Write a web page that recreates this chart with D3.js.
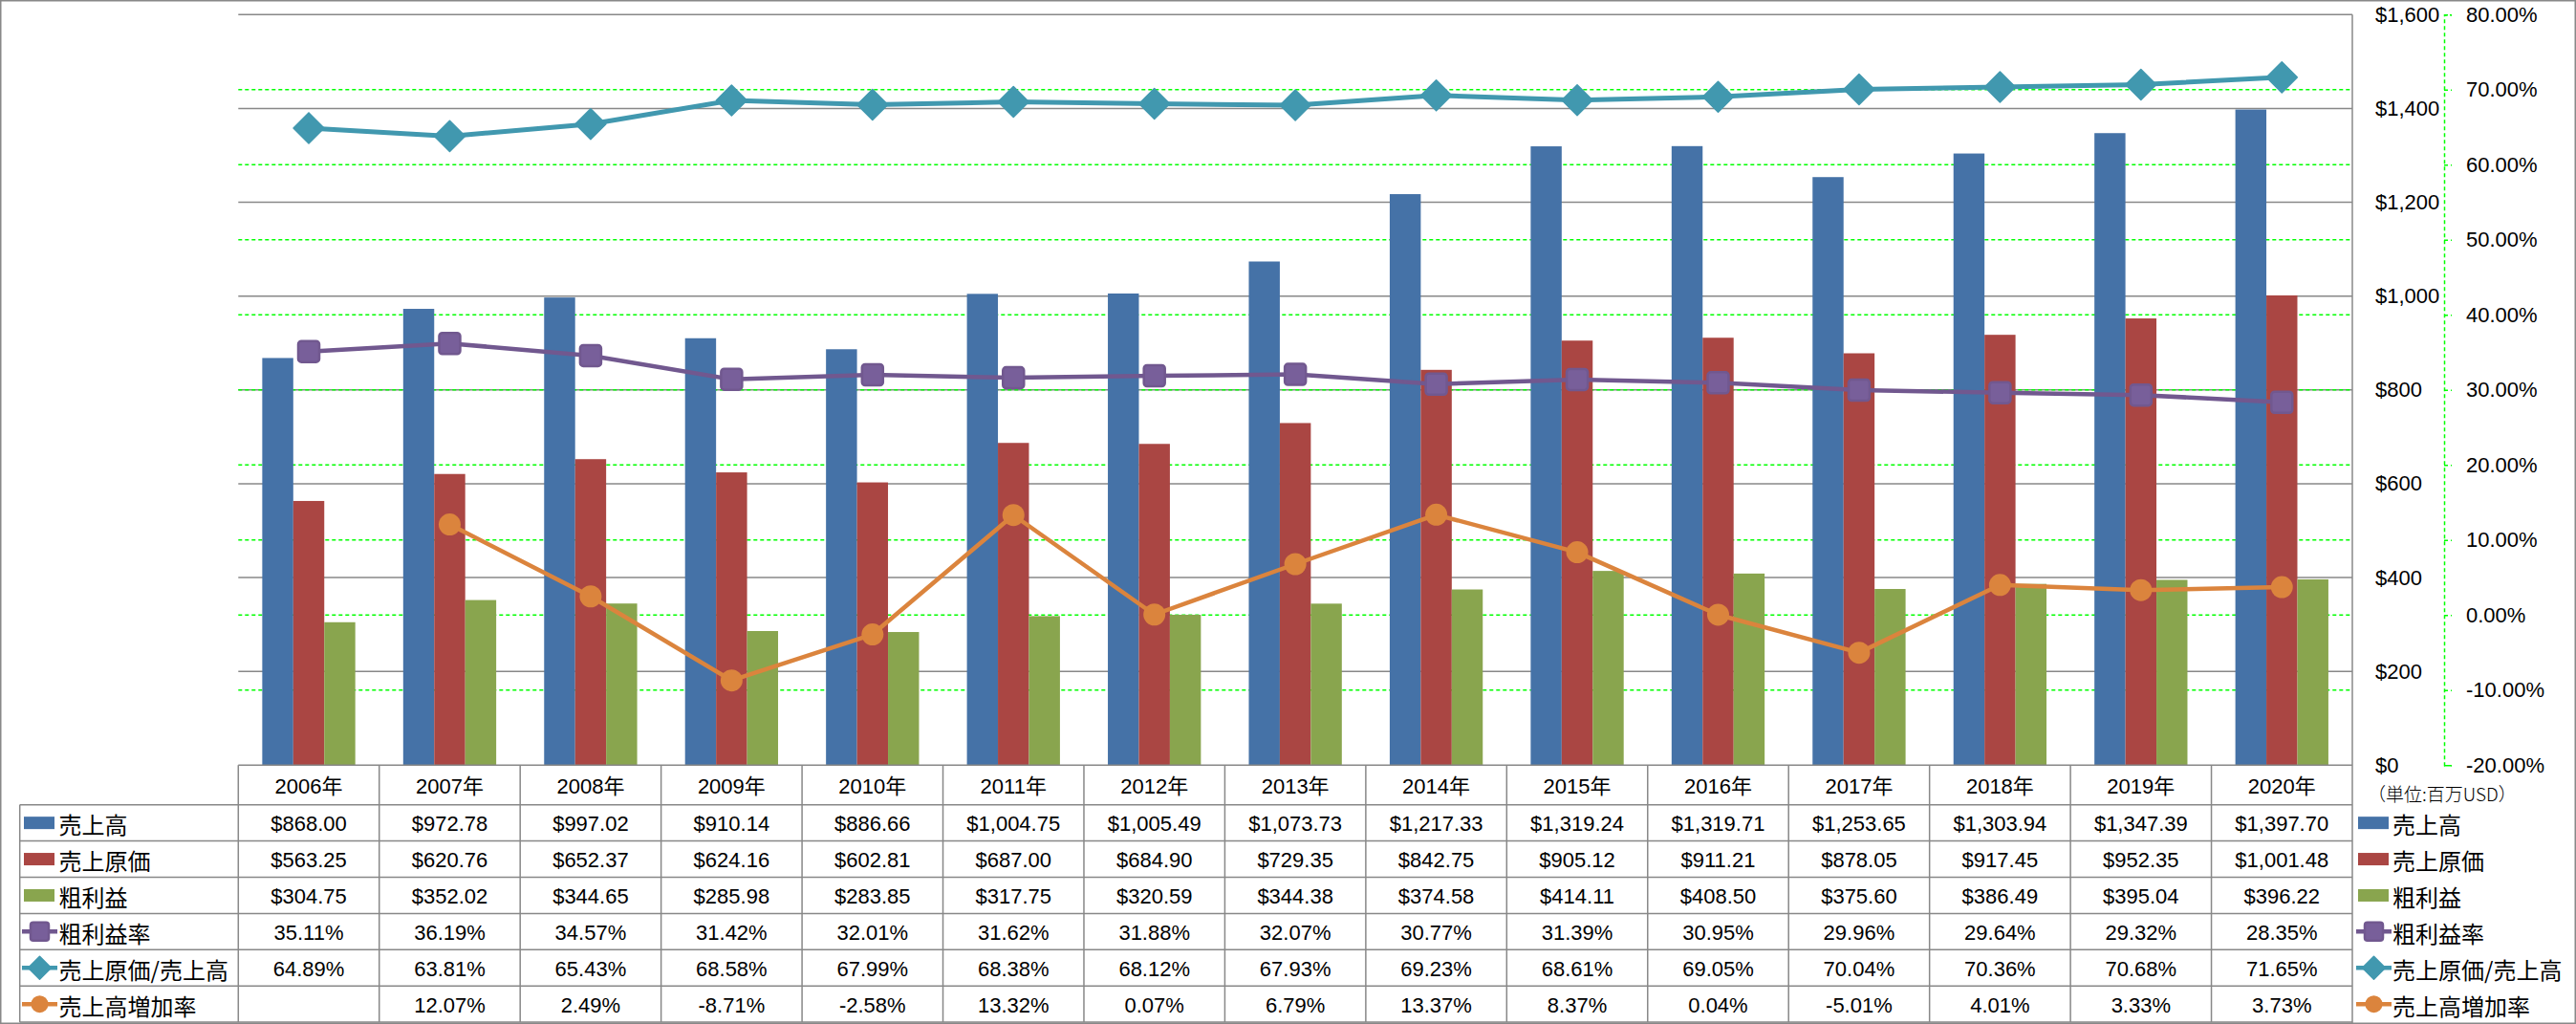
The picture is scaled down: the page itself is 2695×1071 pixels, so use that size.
<!DOCTYPE html>
<html>
<head>
<meta charset="utf-8">
<script src="https://cdn.jsdelivr.net/npm/d3@7"></script>
<style>
  html, body { margin: 0; padding: 0; background: #fff; }
  svg { display: block; }
  text { font-family: "Liberation Sans", "Noto Sans CJK JP", sans-serif; fill: #000; }
</style>
</head>
<body>
<svg id="chart" width="2695" height="1071"></svg>
<script>
// ---------------- data ----------------
const years = ["2006年","2007年","2008年","2009年","2010年","2011年","2012年","2013年","2014年","2015年","2016年","2017年","2018年","2019年","2020年"];
const sales = [868.00, 972.78, 997.02, 910.14, 886.66, 1004.75, 1005.49, 1073.73, 1217.33, 1319.24, 1319.71, 1253.65, 1303.94, 1347.39, 1397.70];
const costOfSales = [563.25, 620.76, 652.37, 624.16, 602.81, 687.00, 684.90, 729.35, 842.75, 905.12, 911.21, 878.05, 917.45, 952.35, 1001.48];
const grossProfit = [304.75, 352.02, 344.65, 285.98, 283.85, 317.75, 320.59, 344.38, 374.58, 414.11, 408.50, 375.60, 386.49, 395.04, 396.22];
const grossMargin = [35.11, 36.19, 34.57, 31.42, 32.01, 31.62, 31.88, 32.07, 30.77, 31.39, 30.95, 29.96, 29.64, 29.32, 28.35];
const costRatio = [64.89, 63.81, 65.43, 68.58, 67.99, 68.38, 68.12, 67.93, 69.23, 68.61, 69.05, 70.04, 70.36, 70.68, 71.65];
const salesGrowth = [null, 12.07, 2.49, -8.71, -2.58, 13.32, 0.07, 6.79, 13.37, 8.37, 0.04, -5.01, 4.01, 3.33, 3.73];
const leftTicks = [0, 200, 400, 600, 800, 1000, 1200, 1400, 1600];
const rightTicks = [-20, -10, 0, 10, 20, 30, 40, 50, 60, 70, 80];
const unitLabel = "（単位:百万USD）";

const barSeries = [
  { name: "売上高", values: sales, color: "#4572a7" },
  { name: "売上原価", values: costOfSales, color: "#aa4643" },
  { name: "粗利益", values: grossProfit, color: "#89a54e" }
];
const lineSeries = [
  { name: "粗利益率", values: grossMargin, color: "#71588f", marker: "square" },
  { name: "売上原価/売上高", values: costRatio, color: "#4198af", marker: "diamond" },
  { name: "売上高増加率", values: salesGrowth, color: "#db843d", marker: "circle" }
];

// ---------------- layout ----------------
const W = 2695, H = 1071;
const plotL = 249.3, plotR = 2461, plotT = 15.3, plotB = 800.3;
const tableLeft = 20.7;
const headerB = 841.7, rowH = 37.9;
const gridGray = "#888888", green = "#00ff00";

const locale = d3.formatLocale({ decimal: ".", thousands: ",", grouping: [3], currency: ["$", ""], minus: "-" });

const svg = d3.select("#chart");

const x = d3.scaleBand().domain(years).range([plotL, plotR]);
const bw = x.bandwidth();
const groupW = bw * 0.66;
const xSub = d3.scaleBand().domain(barSeries.map(s => s.name)).range([(bw - groupW) / 2, (bw + groupW) / 2]);
const yL = d3.scaleLinear().domain([0, 1600]).range([plotB, plotT]);
const yR = d3.scaleLinear().domain([-20, 80]).range([plotB, plotT]);

// outer frame
svg.append("rect").attr("x", 0.75).attr("y", 0.75).attr("width", W - 1.5).attr("height", H - 1.5)
  .attr("fill", "none").attr("stroke", gridGray).attr("stroke-width", 1.5);

// gray gridlines (left/$ axis)
svg.append("g").selectAll("line").data(leftTicks.filter(d => d > 0)).join("line")
  .attr("x1", plotL).attr("x2", plotR)
  .attr("y1", d => yL(d)).attr("y2", d => yL(d))
  .attr("stroke", gridGray).attr("stroke-width", 1.5);

// green dashed gridlines (right/% axis)
svg.append("g").selectAll("line").data(rightTicks.filter(d => d > -20 && d < 80)).join("line")
  .attr("x1", plotL).attr("x2", plotR)
  .attr("y1", d => yR(d)).attr("y2", d => yR(d))
  .attr("stroke", green).attr("stroke-width", 1.5).attr("stroke-dasharray", "4,3");

// bars
const barG = svg.append("g");
barSeries.forEach(s => {
  barG.append("g").selectAll("rect").data(s.values).join("rect")
    .attr("x", (d, i) => x(years[i]) + xSub(s.name))
    .attr("width", xSub.bandwidth())
    .attr("y", d => yL(d))
    .attr("height", d => yL(0) - yL(d))
    .attr("fill", s.color);
});

// marker drawing
function drawMarker(g, type, cx, cy, size, color) {
  if (type === "square") {
    g.append("rect").attr("x", cx - size / 2).attr("y", cy - size / 2)
      .attr("width", size).attr("height", size).attr("rx", size * 0.15)
      .attr("fill", "#785f9a").attr("stroke", color).attr("stroke-width", 2.5);
  } else if (type === "diamond") {
    const h = size / 2;
    g.append("path").attr("d", `M${cx},${cy - h}L${cx + h},${cy}L${cx},${cy + h}L${cx - h},${cy}Z`)
      .attr("fill", color).attr("stroke", color).attr("stroke-width", 1.5).attr("stroke-linejoin", "round");
  } else {
    g.append("circle").attr("cx", cx).attr("cy", cy).attr("r", size / 2)
      .attr("fill", color);
  }
}
const markerSize = { square: 22, diamond: 32, circle: 23 };
const lineWidth = { square: 4.5, diamond: 5, circle: 4.5 };

// lines
lineSeries.forEach(s => {
  const g = svg.append("g");
  const pts = s.values.map((v, i) => ({ v, i }));
  const line = d3.line()
    .defined(d => d.v !== null)
    .x(d => x(years[d.i]) + bw / 2)
    .y(d => yR(d.v));
  g.append("path").datum(pts).attr("d", line)
    .attr("fill", "none").attr("stroke", s.color).attr("stroke-width", lineWidth[s.marker])
    .attr("stroke-linejoin", "round");
  pts.filter(d => d.v !== null).forEach(d => {
    drawMarker(g, s.marker, x(years[d.i]) + bw / 2, yR(d.v), markerSize[s.marker], s.color);
  });
});

// primary value axis line at right edge of plot
svg.append("line").attr("x1", plotR).attr("x2", plotR).attr("y1", plotT).attr("y2", H)
  .attr("stroke", gridGray).attr("stroke-width", 1.5);

// left ($) axis labels placed on the right
const axL = d3.axisRight(yL).tickValues(leftTicks).tickFormat(locale.format("$,.0f")).tickSize(0).tickPadding(0);
const gAxL = svg.append("g").attr("transform", `translate(2485,0)`).call(axL);
gAxL.select(".domain").remove();
gAxL.selectAll("text").attr("font-size", 22).attr("font-family", "Liberation Sans, sans-serif").attr("fill", "#000").attr("x", 0);

// right (%) axis
const axR = d3.axisRight(yR).tickValues(rightTicks).tickFormat(d => locale.format(".2f")(d) + "%").tickSize(8).tickPadding(15);
const gAxR = svg.append("g").attr("transform", `translate(2557,0)`).call(axR);
gAxR.select(".domain").attr("stroke", green).attr("stroke-width", 1.5).attr("stroke-dasharray", "4,3");
gAxR.selectAll(".tick line").attr("stroke", green).attr("stroke-width", 1.5).attr("stroke-dasharray", "4,3");
gAxR.selectAll("text").attr("font-size", 22).attr("font-family", "Liberation Sans, sans-serif")
  .attr("fill", d => d < 0 ? "#ff0000" : "#000");

// unit label
svg.append("text").attr("x", 2477).attr("y", 829).attr("dominant-baseline", "central")
  .attr("font-size", 19).attr("font-weight", 300).attr("fill", "#222")
  .style("font-family", "'Noto Sans CJK JP', sans-serif")
  .text(unitLabel);

// ---------------- data table ----------------
const tbl = svg.append("g");
const tableBottom = headerB + rowH * 6;
const rowsY = d3.range(7).map(i => headerB + i * rowH);
// header top line
tbl.append("line").attr("x1", plotL).attr("x2", plotR).attr("y1", plotB).attr("y2", plotB)
  .attr("stroke", gridGray).attr("stroke-width", 1.5);
// horizontal row lines
tbl.selectAll("line.row").data(rowsY).join("line").attr("class", "row")
  .attr("x1", tableLeft).attr("x2", plotR).attr("y1", d => d).attr("y2", d => d)
  .attr("stroke", gridGray).attr("stroke-width", 1.5);
// vertical lines
const vX = years.map(y => x(y));
tbl.selectAll("line.col").data(vX).join("line").attr("class", "col")
  .attr("x1", d => d).attr("x2", d => d).attr("y1", plotB).attr("y2", tableBottom)
  .attr("stroke", gridGray).attr("stroke-width", 1.5);
tbl.append("line").attr("x1", tableLeft).attr("x2", tableLeft).attr("y1", headerB).attr("y2", tableBottom)
  .attr("stroke", gridGray).attr("stroke-width", 1.5);

// header text
tbl.selectAll("text.hdr").data(years).join("text").attr("class", "hdr")
  .attr("x", d => x(d) + bw / 2).attr("y", (plotB + headerB) / 2 + 1)
  .attr("text-anchor", "middle").attr("dominant-baseline", "central")
  .attr("font-size", 22).text(d => d);

const fmtDollar = locale.format("$,.2f");
const fmtPct = d => d === null ? "" : locale.format(".2f")(d) + "%";
const tableRows = [
  { s: barSeries[0], type: "bar", fmt: fmtDollar },
  { s: barSeries[1], type: "bar", fmt: fmtDollar },
  { s: barSeries[2], type: "bar", fmt: fmtDollar },
  { s: lineSeries[0], type: "line", fmt: fmtPct },
  { s: lineSeries[1], type: "line", fmt: fmtPct },
  { s: lineSeries[2], type: "line", fmt: fmtPct }
];

function legendSymbol(g, r, x0, cy) {
  if (r.type === "bar") {
    g.append("rect").attr("x", x0 + 2).attr("y", cy - 6.5).attr("width", 32).attr("height", 13).attr("fill", r.s.color);
  } else {
    g.append("line").attr("x1", x0).attr("x2", x0 + 37).attr("y1", cy).attr("y2", cy)
      .attr("stroke", r.s.color).attr("stroke-width", 4.5);
    const sz = r.s.marker === "square" ? 19 : r.s.marker === "diamond" ? 24 : 18;
    drawMarker(g, r.s.marker, x0 + 18.5, cy, sz, r.s.color);
  }
}

tableRows.forEach((r, ri) => {
  const cy = headerB + rowH * ri + rowH / 2;
  // row label in the table
  legendSymbol(tbl, r, 23, cy);
  tbl.append("text").attr("x", 61.5).attr("y", cy + 1).attr("dominant-baseline", "central")
    .attr("font-size", 24).style("font-family", "'Noto Sans CJK JP', sans-serif").text(r.s.name);
  // values
  tbl.append("g").selectAll("text").data(r.s.values).join("text")
    .attr("x", (d, i) => x(years[i]) + bw / 2).attr("y", cy + 1)
    .attr("text-anchor", "middle").attr("dominant-baseline", "central")
    .attr("font-size", 22).text(d => r.fmt(d));
  // legend on the right
  legendSymbol(svg, r, 2465, cy);
  svg.append("text").attr("x", 2503).attr("y", cy + 1).attr("dominant-baseline", "central")
    .attr("font-size", 24).style("font-family", "'Noto Sans CJK JP', sans-serif").text(r.s.name);
});
</script>
</body>
</html>
